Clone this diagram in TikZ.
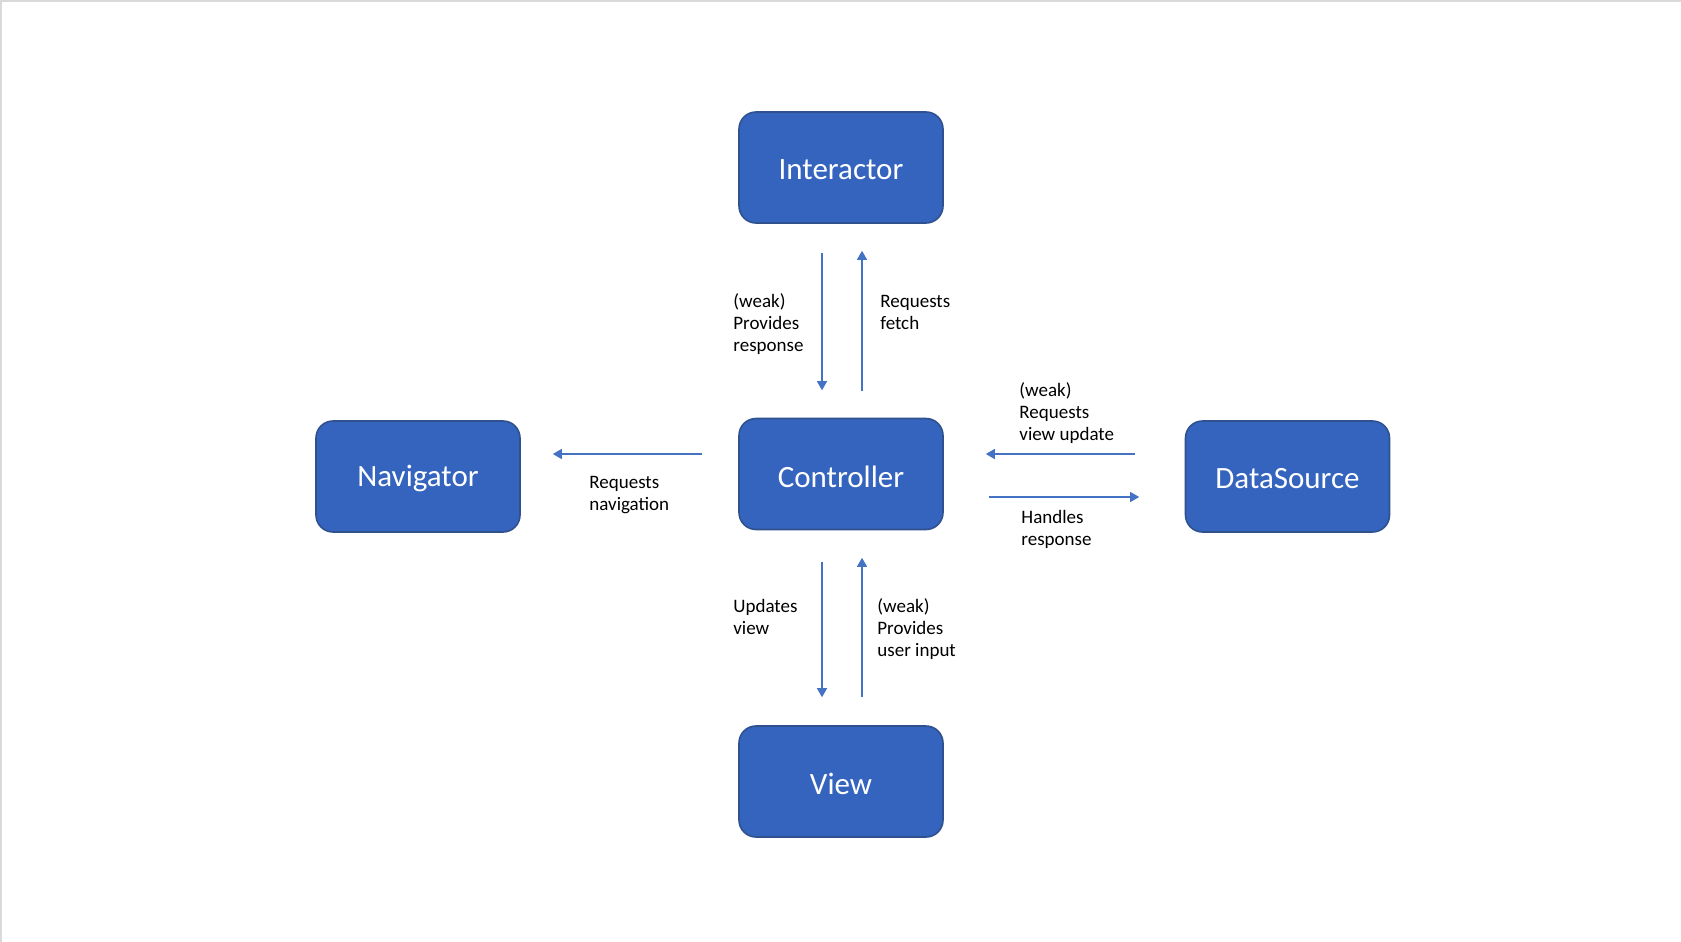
\documentclass[tikz,border=0pt]{standalone}
\usepackage{fontspec}
\setmainfont{Carlito}
\usetikzlibrary{arrows.meta}
\definecolor{boxfill}{HTML}{3564BE}
\definecolor{boxline}{HTML}{2F528F}
\definecolor{arrowc}{HTML}{4472C4}
\definecolor{framec}{HTML}{D9D9D9}
\newcommand\ml[1]{\begin{tabular}[t]{@{}l@{}}#1\end{tabular}}
\newcommand\bl[1]{\raisebox{-1.2pt}[\height][\depth]{#1}}
\begin{document}
\begin{tikzpicture}[x=0.5pt,y=-0.5pt,
 box/.style={draw=boxline, line width=0.8pt, fill=boxfill, rounded corners=8.5pt,
   minimum width=102pt, minimum height=55.5pt, text=white,
   font=\fontsize{15.5}{18}\selectfont, inner sep=0pt},
 arr/.style={draw=arrowc, line width=0.6pt, -{Triangle[width=5pt,length=4.5pt]}},
 lbl/.style={anchor=base west, font=\fontsize{9.5}{11}\selectfont, inner sep=0pt}]
\fill[white] (0,0) rectangle (1681,942);
\fill[framec] (0,0) rectangle (1681,2);
\fill[framec] (0,0) rectangle (2,942);
\useasboundingbox (0,0) rectangle (1681,942);

\node[box] (int) at (841,167.5) {\bl{Interactor}};
\node[box] (ctl) at (841,474) {\bl{Controller}};
\node[box] (nav) at (418,476.5) {\bl{Navigator}};
\node[box] (ds) at (1287.5,476.5) {\bl{DataSource}};
\node[box] (view) at (841,781.5) {\bl{View}};

\node[lbl] (l1) at (733,307) {\ml{(weak)\\Provides\\response}};
\node[lbl] (l2) at (880,307) {\ml{Requests\\fetch}};
\node[lbl] (l3) at (589,488) {\ml{Requests\\navigation}};
\node[lbl] (l4) at (1019,396) {\ml{(weak)\\Requests\\view update}};
\node[lbl] (l5) at (1021,523) {\ml{Handles\\response}};
\node[lbl] (l6) at (733,612) {\ml{Updates\\view}};
\node[lbl] (l7) at (877,612) {\ml{(weak)\\Provides\\user input}};

\draw[arr, shorten <=14.5pt, shorten >=13.75pt] ([xshift=-9.5pt]int.south) -- ([xshift=-9.5pt]ctl.north);
\draw[arr, shorten <=13.25pt, shorten >=13.5pt] ([xshift=10.5pt]ctl.north) -- ([xshift=10.5pt]int.south);
\draw[arr, shorten <=15.75pt, shorten >=14pt] ([xshift=-9.5pt]ctl.south) -- ([xshift=-9.5pt]view.north);
\draw[arr, shorten <=14pt, shorten >=13.75pt] ([xshift=10.5pt]view.north) -- ([xshift=10.5pt]ctl.south);
\draw[arr, shorten <=18pt, shorten >=16pt] ([yshift=10pt]ctl.west) -- ([yshift=10pt]ctl.west -| nav.east);
\draw[arr, shorten <=24.75pt, shorten >=21pt] ([yshift=10pt]ctl.east -| ds.west) -- ([yshift=10pt]ctl.east);
\draw[arr, shorten <=22.5pt, shorten >=22.75pt] ([yshift=-11.5pt]ctl.east) -- ([yshift=-11.5pt]ctl.east -| ds.west);
\end{tikzpicture}
\end{document}
